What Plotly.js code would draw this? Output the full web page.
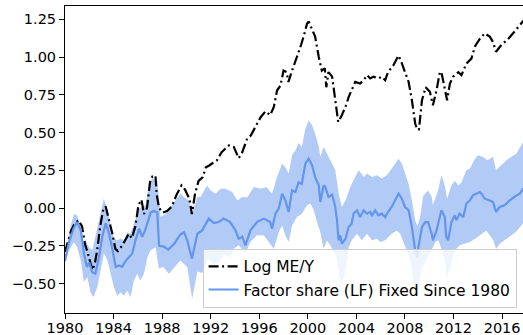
<!DOCTYPE html>
<html>
<head>
<meta charset="utf-8">
<script src="https://cdn.plot.ly/plotly-3.0.1.min.js"></script>
<style>html,body{margin:0;padding:0;background:#fff;}#chart{width:523px;height:335px;}</style>
</head>
<body>
<div id="chart"></div>
<script>
// Log ME/Y
const meyYears = [1980.0,1980.25,1980.5,1980.75,1981.1,1981.4,1981.65,1981.85,1982.05,1982.25,1982.45,1982.65,1982.9,1983.15,1983.35,1983.6,1983.9,1984.15,1984.35,1984.7,1985.0,1985.25,1985.5,1985.8,1986.05,1986.3,1986.5,1986.75,1987.0,1987.2,1987.45,1987.55,1987.75,1988.05,1988.4,1988.8,1989.2,1989.6,1989.9,1990.25,1990.45,1990.7,1991.0,1991.35,1991.6,1991.85,1992.2,1992.5,1992.9,1993.5,1993.9,1994.3,1994.6,1995.0,1995.3,1995.7,1996.1,1996.5,1996.9,1997.2,1997.47,1997.74,1998.0,1998.25,1998.4,1998.7,1998.97,1999.24,1999.4,1999.65,1999.93,2000.07,2000.35,2000.6,2000.9,2001.15,2001.4,2001.52,2001.7,2002.0,2002.26,2002.5,2002.8,2003.1,2003.36,2003.6,2003.9,2004.3,2004.6,2004.87,2005.14,2005.4,2005.8,2006.1,2006.37,2006.6,2007.05,2007.47,2007.7,2008.0,2008.3,2008.57,2008.84,2009.0,2009.15,2009.4,2009.7,2010.05,2010.3,2010.6,2010.87,2011.0,2011.28,2011.47,2011.7,2011.97,2012.4,2012.65,2013.06,2013.47,2013.76,2014.16,2014.57,2014.98,2015.25,2015.5,2015.94,2016.5,2016.9,2017.3,2017.75];
const meyValues = [-0.29,-0.22,-0.15,-0.11,-0.08,-0.12,-0.24,-0.29,-0.36,-0.41,-0.37,-0.28,-0.12,-0.01,0.01,-0.07,-0.17,-0.27,-0.285,-0.25,-0.21,-0.17,-0.2,-0.12,0.02,0.055,-0.04,0.0,0.17,0.21,0.215,0.09,0.0,-0.03,-0.02,0.01,0.09,0.15,0.12,0.06,-0.04,0.09,0.18,0.205,0.27,0.28,0.3,0.315,0.37,0.415,0.405,0.33,0.37,0.46,0.48,0.54,0.6,0.64,0.615,0.67,0.78,0.81,0.91,0.9,0.835,0.91,0.97,1.02,1.07,1.135,1.22,1.235,1.18,1.135,1.0,0.91,0.925,0.8,0.9,0.87,0.715,0.57,0.615,0.67,0.735,0.78,0.835,0.825,0.847,0.88,0.858,0.87,0.858,0.87,0.847,0.9,0.946,1.01,0.968,0.9,0.835,0.714,0.56,0.52,0.52,0.714,0.8,0.77,0.68,0.78,0.9,0.9,0.79,0.714,0.825,0.87,0.9,0.88,0.957,0.99,1.07,1.12,1.157,1.135,1.1,1.035,1.08,1.12,1.157,1.2,1.24];

// Factor share (LF) Fixed Since 1980
const fsYears = [1980.0,1980.33,1980.7,1981.0,1981.3,1981.56,1981.8,1982.0,1982.25,1982.5,1982.8,1983.07,1983.35,1983.6,1983.9,1984.17,1984.44,1984.7,1985.0,1985.26,1985.54,1985.8,1986.1,1986.36,1986.6,1987.05,1987.3,1987.6,1987.75,1988.14,1988.5,1989.0,1989.5,1989.8,1990.07,1990.45,1990.9,1991.3,1991.84,1992.25,1992.66,1993.07,1993.6,1994.04,1994.3,1994.6,1994.86,1995.27,1995.8,1996.37,1996.9,1997.05,1997.33,1997.6,1997.88,1998.15,1998.42,1998.7,1998.97,1999.24,1999.5,1999.8,2000.07,2000.35,2000.6,2000.9,2001.03,2001.3,2001.44,2001.7,2002.0,2002.26,2002.4,2002.53,2002.67,2002.8,2003.1,2003.36,2003.6,2003.77,2004.05,2004.3,2004.6,2004.87,2005.14,2005.28,2005.55,2005.8,2006.1,2006.37,2006.6,2006.9,2007.2,2007.47,2007.74,2008.0,2008.3,2008.57,2008.84,2009.0,2009.1,2009.4,2009.66,2009.9,2010.2,2010.3,2010.6,2011.0,2011.28,2011.4,2011.55,2011.83,2012.1,2012.24,2012.5,2012.8,2013.06,2013.34,2013.6,2013.9,2014.16,2014.3,2014.57,2014.98,2015.25,2015.5,2015.8,2016.2,2016.6,2017.0,2017.45,2017.75];
const fsValues = [-0.35,-0.225,-0.137,-0.093,-0.148,-0.3,-0.39,-0.36,-0.425,-0.435,-0.325,-0.19,-0.1,-0.16,-0.27,-0.39,-0.38,-0.39,-0.35,-0.325,-0.3,-0.215,-0.137,-0.19,-0.148,-0.03,-0.02,-0.03,-0.25,-0.255,-0.275,-0.236,-0.175,-0.16,-0.214,-0.335,-0.17,-0.148,-0.07,-0.1,-0.093,-0.07,-0.093,-0.148,-0.203,-0.19,-0.247,-0.148,-0.093,-0.07,-0.093,-0.137,-0.037,-0.004,0.095,0.05,-0.026,0.117,0.106,0.17,0.16,0.295,0.327,0.283,0.205,0.15,0.04,0.15,0.14,0.073,0.09,0.007,-0.08,-0.214,-0.18,-0.236,-0.203,-0.126,-0.104,-0.037,-0.015,-0.06,-0.015,-0.037,-0.026,-0.048,-0.015,-0.048,-0.037,-0.06,-0.026,0.007,0.05,0.095,0.062,0.007,-0.015,-0.126,-0.28,-0.325,-0.26,-0.126,-0.093,-0.093,-0.17,-0.214,-0.148,-0.015,-0.06,-0.19,-0.214,-0.093,-0.048,-0.08,-0.037,-0.06,0.03,0.05,0.084,0.095,0.106,0.095,0.062,0.05,0.04,-0.026,0.007,0.018,0.05,0.073,0.095,0.13];

// Upper edge of the band
const upYears = [1980.0,1980.47,1980.74,1981.0,1981.3,1981.56,1981.7,1981.97,1982.25,1982.5,1982.8,1983.07,1983.2,1983.5,1983.77,1984.03,1984.3,1984.58,1984.85,1985.13,1985.4,1985.67,1986.1,1986.36,1986.64,1986.9,1987.2,1987.6,1987.87,1988.3,1988.7,1989.1,1989.5,1989.8,1990.2,1990.47,1990.9,1991.16,1991.7,1992.0,1992.4,1992.8,1993.2,1993.77,1994.2,1994.6,1995.0,1995.55,1996.1,1996.6,1997.05,1997.47,1997.88,1998.15,1998.42,1998.7,1998.97,1999.24,1999.5,1999.8,2000.07,2000.35,2000.6,2000.9,2001.03,2001.3,2001.57,2001.85,2002.26,2002.53,2002.8,2003.1,2003.5,2003.9,2004.2,2004.6,2004.87,2005.28,2005.7,2006.1,2006.5,2006.9,2007.2,2007.47,2007.74,2008.0,2008.3,2008.57,2008.84,2009.03,2009.25,2009.5,2009.9,2010.2,2010.3,2010.73,2011.0,2011.28,2011.47,2011.83,2012.1,2012.4,2012.65,2013.06,2013.34,2013.76,2014.0,2014.4,2014.8,2015.25,2015.5,2015.94,2016.35,2016.76,2017.17,2017.75];
const upValues = [-0.33,-0.115,-0.037,-0.05,-0.126,-0.247,-0.214,-0.26,-0.28,-0.19,-0.06,0.03,0.062,-0.004,-0.126,-0.203,-0.214,-0.203,-0.214,-0.16,-0.17,-0.104,-0.004,0.007,0.018,0.16,0.195,0.18,-0.06,-0.037,0.007,0.05,0.095,0.073,0.05,-0.037,0.073,0.073,0.15,0.117,0.095,0.128,0.128,0.106,0.05,0.073,0.07,0.14,0.128,0.14,0.095,0.205,0.295,0.27,0.228,0.35,0.38,0.43,0.405,0.527,0.58,0.548,0.49,0.405,0.34,0.405,0.36,0.316,0.25,0.1,0.007,0.05,0.14,0.205,0.25,0.205,0.228,0.205,0.217,0.195,0.217,0.26,0.295,0.327,0.295,0.228,0.16,0.05,-0.08,-0.12,-0.06,0.08,0.117,0.073,0.018,0.117,0.217,0.15,0.062,0.15,0.18,0.15,0.17,0.25,0.26,0.327,0.35,0.34,0.316,0.34,0.25,0.283,0.316,0.34,0.36,0.44];

// Lower edge of the band
const loYears = [1980.0,1980.33,1980.74,1981.0,1981.3,1981.56,1981.84,1982.1,1982.33,1982.66,1982.94,1983.2,1983.5,1983.77,1984.03,1984.3,1984.58,1984.85,1985.13,1985.4,1985.67,1985.95,1986.2,1986.5,1986.78,1987.05,1987.46,1987.73,1988.1,1988.55,1989.0,1989.5,1990.07,1990.47,1990.9,1991.3,1991.8,1992.2,1992.7,1993.05,1993.6,1993.9,1994.3,1994.86,1995.27,1995.8,1996.37,1996.8,1997.2,1997.6,1997.88,1998.15,1998.42,1998.7,1999.1,1999.5,1999.93,2000.2,2000.5,2000.75,2001.03,2001.3,2001.57,2001.85,2002.1,2002.4,2002.6,2002.8,2003.1,2003.36,2003.6,2004.05,2004.45,2004.87,2005.28,2005.7,2005.96,2006.37,2006.9,2007.33,2007.6,2007.88,2008.15,2008.4,2008.6,2008.84,2009.0,2009.15,2009.4,2009.9,2010.2,2010.5,2010.75,2011.0,2011.3,2011.45,2011.6,2011.85,2012.1,2012.5,2012.95,2013.36,2013.77,2014.2,2014.7,2015.28,2015.5,2015.8,2016.2,2016.6,2017.1,2017.75];
const loValues = [-0.36,-0.28,-0.225,-0.26,-0.347,-0.49,-0.457,-0.557,-0.59,-0.524,-0.4,-0.3,-0.347,-0.435,-0.524,-0.58,-0.557,-0.58,-0.546,-0.59,-0.48,-0.435,-0.48,-0.435,-0.325,-0.28,-0.26,-0.4,-0.39,-0.435,-0.39,-0.347,-0.39,-0.6,-0.42,-0.43,-0.33,-0.37,-0.36,-0.31,-0.325,-0.27,-0.247,-0.3,-0.225,-0.18,-0.18,-0.225,-0.27,-0.16,-0.115,-0.18,-0.225,-0.115,-0.06,-0.037,0.018,0.03,-0.015,-0.093,-0.16,-0.27,-0.214,-0.247,-0.28,-0.33,-0.46,-0.5,-0.42,-0.26,-0.214,-0.17,-0.214,-0.17,-0.214,-0.203,-0.225,-0.214,-0.17,-0.148,-0.17,-0.225,-0.28,-0.33,-0.42,-0.55,-0.6,-0.5,-0.4,-0.325,-0.28,-0.225,-0.214,-0.27,-0.347,-0.48,-0.42,-0.347,-0.28,-0.247,-0.236,-0.225,-0.203,-0.18,-0.148,-0.214,-0.27,-0.236,-0.214,-0.19,-0.16,-0.1];

const seriesNames = ['Log ME/Y', 'Factor share (LF) Fixed Since 1980'];
const xTicks = [1980,1984,1988,1992,1996,2000,2004,2008,2012,2016];
const yTicks = [-0.5,-0.25,0,0.25,0.5,0.75,1.0,1.25];

const blue = '#6495ED';
const bandX = upYears.concat(loYears.slice().reverse());
const bandY = upValues.concat(loValues.slice().reverse());

const traces = [
  {x: bandX, y: bandY, type: 'scatter', mode: 'lines', fill: 'toself',
   fillcolor: 'rgba(100,149,237,0.5)', line: {width: 0}, showlegend: false, hoverinfo: 'skip'},
  {x: meyYears, y: meyValues, type: 'scatter', mode: 'lines', name: seriesNames[0],
   line: {color: '#000000', width: 2.2, dash: '10px,3.5px,2px,3.5px'}},
  {x: fsYears, y: fsValues, type: 'scatter', mode: 'lines', name: seriesNames[1],
   line: {color: blue, width: 2.2}}
];

const font = {family: 'DejaVu Sans, sans-serif', size: 14.5, color: '#000'};
const legendFont = {family: 'DejaVu Sans, sans-serif', size: 15.5, color: '#000'};
const layout = {
  width: 523, height: 335,
  margin: {l: 65, r: 0, t: 6, b: 22, pad: 0},
  paper_bgcolor: '#fff', plot_bgcolor: '#fff',
  font: font,
  showlegend: true,
  legend: {x: 0.986, y: 0.017, xanchor: 'right', yanchor: 'bottom',
    bgcolor: 'rgba(255,255,255,0.8)', bordercolor: '#cccccc', borderwidth: 1,
    font: legendFont, tracegroupgap: 0},
  xaxis: {range: [1980, 2017.72], tickvals: xTicks, ticktext: xTicks.map(String),
    showgrid: false, zeroline: false, showline: true, linecolor: '#000', linewidth: 1,
    mirror: true, ticks: 'outside', ticklen: 5, tickcolor: '#000', tickwidth: 1, tickfont: font,
    ticklabelstandoff: -3},
  yaxis: {range: [-0.695, 1.338], tickvals: yTicks, tickformat: '.2f',
    showgrid: false, zeroline: false, showline: true, linecolor: '#000', linewidth: 1,
    ticks: 'outside', ticklen: 5, tickcolor: '#000', tickwidth: 1, tickfont: font}
};
Plotly.newPlot('chart', traces, layout, {displayModeBar: false, staticPlot: true});
</script>
</body>
</html>
